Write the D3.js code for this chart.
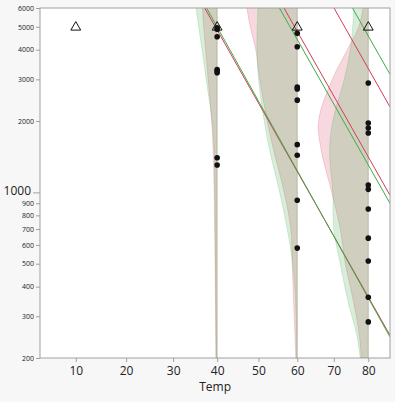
<!DOCTYPE html>
<html>
<head>
<meta charset="utf-8">
<script src="https://cdn.jsdelivr.net/npm/d3@7"></script>
<style>
  body { margin: 0; background: #f7f7f7; }
  svg { display: block; font-family: 'Open Sans', 'Noto Sans', sans-serif; }
</style>
</head>
<body>
<svg width="395" height="402"></svg>
<script>
// axis ticks
var xTicks = [10, 20, 30, 40, 50, 60, 70, 80]
var yTicks = [200, 300, 400, 500, 600, 700, 800, 900, 1000, 2000, 3000, 4000, 5000, 6000]

// failure times (hours) at each stress level
var levels = [40, 60, 80]
var hours40 = [4950, 4880, 4540, 3300, 3250, 3200, 1400, 1305]
var hours60 = [4690, 4120, 2780, 2730, 2450, 1590, 1435, 927, 582]
var hours80 = [2895, 1962, 1869, 1780, 1075, 1030, 851, 641, 513, 361, 284]

// censored units (right censored at 5000 h)
var censTemps = [10, 40, 60, 80]
var censHours = [5000, 5000, 5000, 5000]

// fitted quantile lines, hours at 40C and 80C
var redQ40 = [4845, 18890, 44590]
var redQ80 = [362, 1411, 3330]
var greenQ40 = [4990, 17470, 61210]
var greenQ80 = [358, 1305, 4571]

// density outlines (relative density) at each level
var densHours = [7000, 6000, 5000, 4000, 3000, 2000, 1500, 1000, 700, 500, 350, 250, 200]
var red40 = [0.31, 0.294, 0.27, 0.23, 0.18, 0.11, 0.08, 0.06, 0.05, 0.04, 0.034, 0.028, 0.024]
var green40 = [0.45, 0.42, 0.37, 0.30, 0.22, 0.10, 0.06, 0.046, 0.04, 0.034, 0.028, 0.024, 0.02]
var red60 = [1.03, 1.006, 0.94, 0.83, 0.75, 0.60, 0.47, 0.26, 0.13, 0.10, 0.074, 0.046, 0.03]
var green60 = [0.78, 0.786, 0.80, 0.806, 0.774, 0.66, 0.55, 0.35, 0.20, 0.09, 0.034, 0.02, 0.012]
var red80 = [0.07, 0.106, 0.19, 0.42, 0.72, 0.994, 0.94, 0.73, 0.56, 0.46, 0.30, 0.18, 0.14]
var green80 = [0.28, 0.29, 0.31, 0.36, 0.48, 0.71, 0.774, 0.71, 0.69, 0.56, 0.41, 0.23, 0.16]

var svg = d3.select('svg')
var margin = {top: 8, right: 5, bottom: 44, left: 40}
var width = 395 - margin.left - margin.right
var height = 402 - margin.top - margin.bottom

// arrhenius x scale
var arr = function (t) { return -1 / (t + 273.15) }
var xs = d3.scaleLinear().domain([arr(3.3), arr(86.6)]).range([0, width])
var x = function (t) { return xs(arr(t)) }
var y = d3.scaleLog().domain([200, 6000]).range([height, 0])
var w = d3.scaleLinear().domain([0, 1]).range([0, 50])

var redC = '#d23c5a'
var greenC = '#3cac46'

svg.append('defs').append('clipPath').attr('id', 'plot')
  .append('rect').attr('width', width).attr('height', height)

var g = svg.append('g')
  .attr('transform', 'translate(' + margin.left + ',' + margin.top + ')')

g.append('rect')
  .attr('width', width).attr('height', height)
  .attr('fill', '#fff')

var plot = g.append('g').attr('clip-path', 'url(#plot)')

// densities
var dens = [[40, red40, green40], [60, red60, green60], [80, red80, green80]]
dens.forEach(function (lv) {
  var x0 = x(lv[0])
  var area = function (vals) {
    return d3.area()
      .y(function (d, i) { return y(densHours[i]) })
      .x0(x0)
      .x1(function (d) { return x0 - w(d) })
      .curve(d3.curveCatmullRom)(vals)
  }
  plot.append('path')
    .attr('d', area(lv[1]))
    .attr('fill', redC).attr('fill-opacity', 0.2)
    .attr('stroke', redC).attr('stroke-opacity', 0.25).attr('stroke-width', 0.8)
  plot.append('path')
    .attr('d', area(lv[2]))
    .attr('fill', greenC).attr('fill-opacity', 0.2)
    .attr('stroke', greenC).attr('stroke-opacity', 0.25).attr('stroke-width', 0.8)
})

// quantile lines, extended across the plot
function qline (v40, v80, color) {
  var x1 = x(40), x2 = x(80), y1 = y(v40), y2 = y(v80)
  var k = (y2 - y1) / (x2 - x1)
  plot.append('line')
    .attr('x1', 0).attr('y1', y1 + k * (0 - x1))
    .attr('x2', width).attr('y2', y1 + k * (width - x1))
    .attr('stroke', color).attr('stroke-width', 1)
}
redQ40.forEach(function (v, i) { qline(v, redQ80[i], redC) })
greenQ40.forEach(function (v, i) { qline(v, greenQ80[i], greenC) })

// censored triangles
plot.selectAll('.cens')
  .data(censTemps)
  .enter().append('path')
  .attr('class', 'cens')
  .attr('transform', function (d, i) { return 'translate(' + x(d) + ',' + (y(censHours[i]) + 0.5) + ')' })
  .attr('d', d3.symbol().type(d3.symbolTriangle).size(42))
  .attr('fill', 'none').attr('stroke', '#111').attr('stroke-width', 1)

// failure points
var pts = []
hours40.forEach(function (h) { pts.push([40, h]) })
hours60.forEach(function (h) { pts.push([60, h]) })
hours80.forEach(function (h) { pts.push([80, h]) })
plot.selectAll('.pt')
  .data(pts)
  .enter().append('circle')
  .attr('class', 'pt')
  .attr('cx', function (d) { return x(d[0]) })
  .attr('cy', function (d) { return y(d[1]) })
  .attr('r', 2.8)
  .attr('fill', '#111')

// frame
g.append('rect')
  .attr('width', width).attr('height', height)
  .attr('fill', 'none').attr('stroke', '#a0a0a0')

// x axis
var xAxis = g.append('g')
  .attr('transform', 'translate(0,' + height + ')')
  .call(d3.axisBottom(xs)
    .tickValues(xTicks.map(arr))
    .tickFormat(function (d, i) { return xTicks[i] })
    .tickSize(4)
    .tickPadding(4))
xAxis.select('.domain').remove()
xAxis.selectAll('line').attr('stroke', '#a0a0a0')
xAxis.selectAll('text').attr('font-size', 12).attr('fill', '#222')
  .attr('font-family', "'Open Sans', sans-serif")

g.append('text')
  .attr('x', x(40) - 2).attr('y', height + 33)
  .attr('text-anchor', 'middle')
  .attr('font-size', 12).attr('fill', '#222')
  .text('Temp')

// y axis
var yAxis = g.append('g')
  .call(d3.axisLeft(y)
    .tickValues(yTicks)
    .tickFormat(d3.format('d'))
    .tickSize(4)
    .tickPadding(2))
yAxis.select('.domain').remove()
yAxis.selectAll('line').attr('stroke', '#a0a0a0')
yAxis.selectAll('text').attr('font-size', 7).attr('fill', '#222')
  .attr('font-family', "'Open Sans', sans-serif")
yAxis.selectAll('.tick').filter(function (d) { return d === 1000 })
  .each(function () {
    d3.select(this).select('line').attr('x2', -7)
    d3.select(this).select('text').attr('x', -9).attr('dy', '0.2em').attr('font-size', 12)
  })
</script>
</body>
</html>
